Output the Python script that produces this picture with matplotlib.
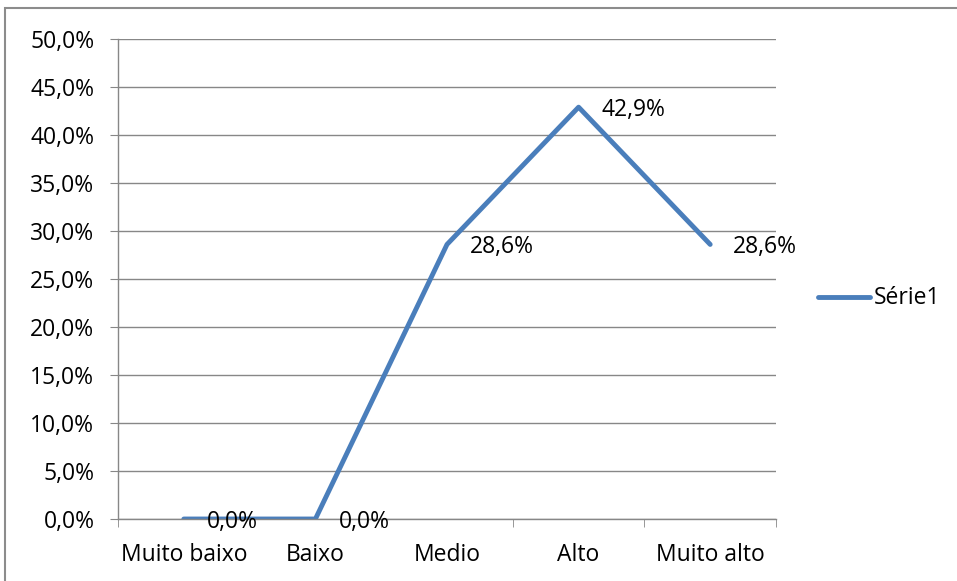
import matplotlib
matplotlib.use("Agg")
import matplotlib.pyplot as plt
from matplotlib.patches import Rectangle
from matplotlib.lines import Line2D

categories = ["Muito baixo", "Baixo", "Medio", "Alto", "Muito alto"]
values = [0.0, 0.0, 28.6, 42.9, 28.6]
labels = ["0,0%", "0,0%", "28,6%", "42,9%", "28,6%"]
yticks = [0, 5, 10, 15, 20, 25, 30, 35, 40, 45, 50]

plt.rcParams['font.family'] = ['Open Sans', 'DejaVu Sans']
color = "#4A7EBB"
grid = "#878787"
FS = 16.5

W, H = 957, 581
fig = plt.figure(figsize=(W/100, H/100), dpi=100)
fig.patch.set_facecolor("white")

# outer chart border
fig.add_artist(Rectangle((5/W, -0.1), 1.2, 1.1 - 8/H, transform=fig.transFigure,
                         fill=False, edgecolor="#8c8c8c", lw=1.5))

ax = fig.add_axes([118/W, 1 - 519/H, (776-118)/W, (519-39)/H])
x = list(range(len(categories)))
ax.plot(x, values, color=color, lw=3.5, solid_capstyle="round", solid_joinstyle="round")
ax.set_xlim(-0.5, len(categories) - 0.5)
ax.set_ylim(0, 50)
ax.set_yticks(yticks)
ax.set_yticklabels([f"{v:.1f}%".replace(".", ",") for v in yticks], fontsize=FS)
ax.set_xticks(x)
ax.set_xticklabels(categories, fontsize=FS)
ax.set_xticks([i - 0.5 for i in range(len(categories) + 1)], minor=True)
ax.tick_params(axis="x", which="major", length=0, pad=17)
ax.tick_params(axis="x", which="minor", length=6, color=grid)
ax.tick_params(axis="y", length=6, color=grid, pad=11)
ax.yaxis.grid(True, color=grid, lw=1)
ax.set_axisbelow(True)
for s in ["top", "right"]:
    ax.spines[s].set_visible(False)
for s in ["left", "bottom"]:
    ax.spines[s].set_color(grid)
    ax.spines[s].set_linewidth(1)

for xi, v, lab in zip(x, values, labels):
    ax.annotate(lab, (xi, v), xytext=(23, -3), textcoords="offset pixels",
                ha="left", va="center", fontsize=FS, color="black")

# legend
fig.add_artist(Line2D([818/W, 870/W], [1 - 297/H, 1 - 297/H], color=color, lw=3.5,
                      solid_capstyle="round", transform=fig.transFigure))
fig.text(874/W, 1 - 298/H, "Série1", fontsize=FS, va="center", ha="left")

fig.savefig("out.png", dpi=100)
